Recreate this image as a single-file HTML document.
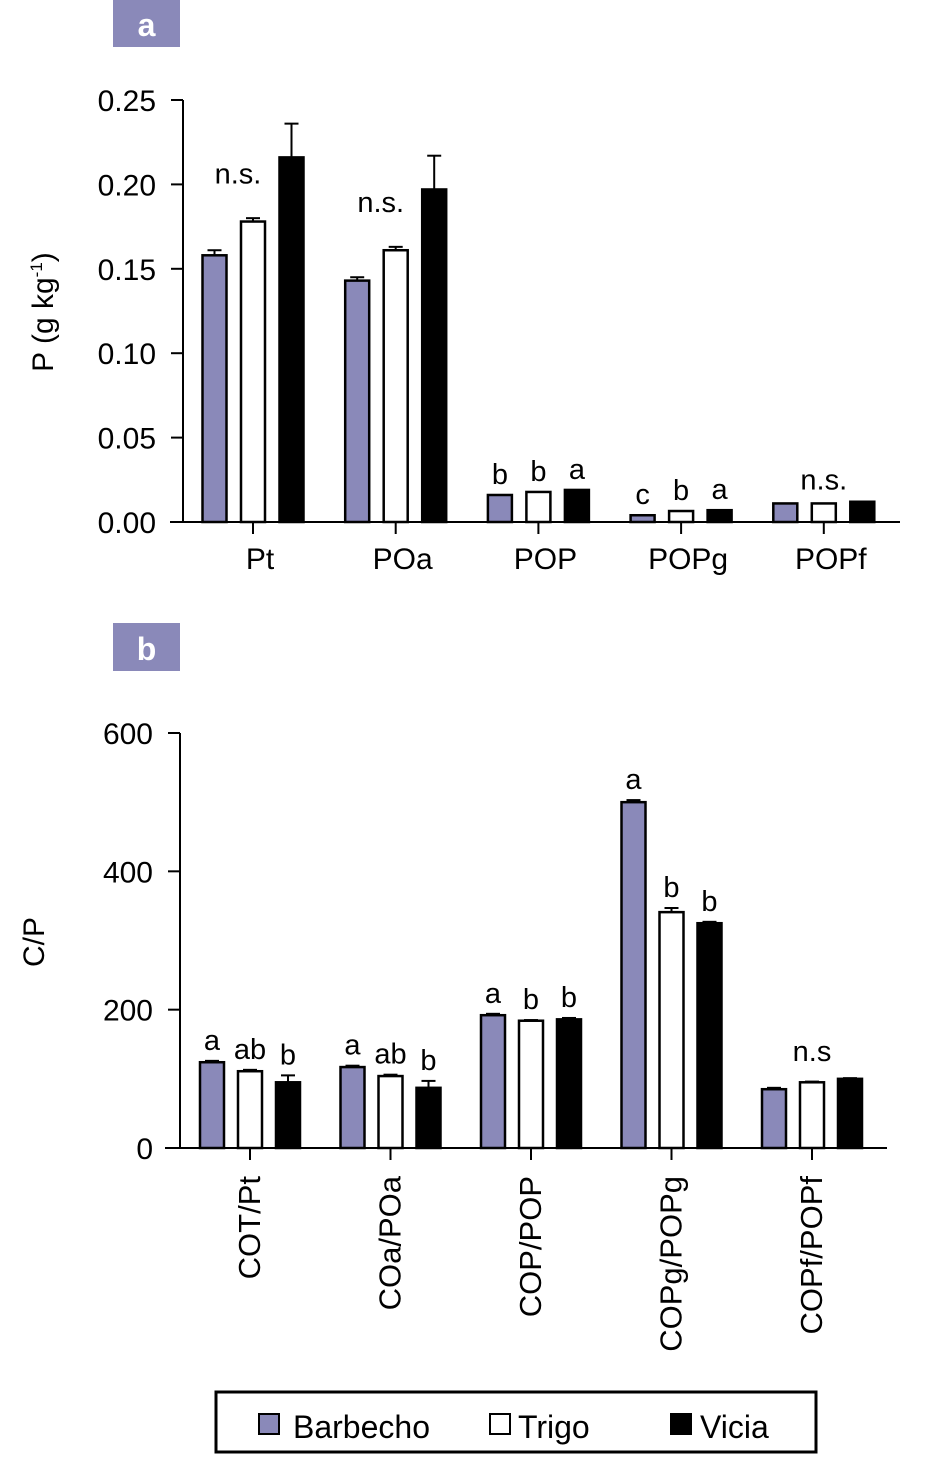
<!DOCTYPE html>
<html><head><meta charset="utf-8"><style>
body{margin:0;background:#fff}
svg{display:block;font-family:"Liberation Sans",Arial,sans-serif}
</style></head><body>
<svg id="s" width="932" height="1464" xmlns="http://www.w3.org/2000/svg">
<rect x="113" y="0" width="67" height="47" fill="#8a89b9"/>
<text x="146.5" y="36" font-size="32" font-weight="bold" fill="#fff" text-anchor="middle">a</text>
<rect x="113" y="623" width="67" height="48" fill="#8a89b9"/>
<text x="146.5" y="660" font-size="32" font-weight="bold" fill="#fff" text-anchor="middle">b</text>
<text transform="translate(53,312) rotate(-90)" font-size="30" text-anchor="middle">P (g kg<tspan font-size="17" dy="-11">-1</tspan><tspan dy="11">)</tspan></text>
<text transform="translate(44,942) rotate(-90)" font-size="30" text-anchor="middle">C/P</text>
<g id="ga"></g><g id="gb"></g>
<rect x="216" y="1392" width="600" height="60" fill="none" stroke="#000" stroke-width="3"/>
<rect x="259" y="1414" width="20" height="20" fill="#8a89b9" stroke="#000" stroke-width="2"/>
<text x="293" y="1438" font-size="32">Barbecho</text>
<rect x="490" y="1414" width="20" height="20" fill="#fff" stroke="#000" stroke-width="2"/>
<text x="518" y="1438" font-size="32">Trigo</text>
<rect x="671" y="1414" width="20" height="20" fill="#000" stroke="#000" stroke-width="2"/>
<text x="700" y="1438" font-size="32">Vicia</text>
</svg>
<script>
const catsA=["Pt","POa","POP","POPg","POPf"];
const barA=[0.158,0.143,0.016,0.004,0.011];
const trA=[0.178,0.161,0.0178,0.0065,0.011];
const viA=[0.216,0.197,0.019,0.007,0.012];
const errBarA=[0.003,0.002,0,0,0];
const errTrA=[0.002,0.002,0,0,0];
const errViA=[0.02,0.02,0,0,0];
const letA=[["","n.s.",""],["","n.s.",""],["b","b","a"],["c","b","a"],["","n.s.",""]];
const ticksA=["0.00","0.05","0.10","0.15","0.20","0.25"];
const catsB=["COT/Pt","COa/POa","COP/POP","COPg/POPg","COPf/POPf"];
const barB=[124,117,192,500,85];
const trB=[111,104,184,341,95];
const viB=[95,87,186,325,100];
const errBarB=[2,2,2,3,2];
const errTrB=[2,2,1,6,1];
const errViB=[10,10,2,2,1];
const letB=[["a","ab","b"],["a","ab","b"],["a","b","b"],["a","b","b"],["","n.s",""]];
const ticksB=["0","200","400","600"];
const NS="http://www.w3.org/2000/svg";
function mk(p,t,a){const e=document.createElementNS(NS,t);for(const k in a)e.setAttribute(k,a[k]);p.appendChild(e);return e;}
const cols=["#8a89b9","#fff","#000"];
function chart(g,o){
  const y=v=>o.y0-(v-o.vmin)/(o.vmax-o.vmin)*(o.y0-o.y1);
  const xc=i=>o.x0+i*o.dx;
  let ax=mk(g,"line",{x1:o.ax,x2:o.ax,y1:o.y1,y2:o.y0,stroke:"#000","stroke-width":2});
  
  
  let bx=mk(g,"line",{x1:o.xs,x2:o.xe,y1:o.y0,y2:o.y0,stroke:"#000","stroke-width":2});
  
  
  o.ticks.forEach((t,i)=>{
    const yy=y(parseFloat(t));
    mk(g,"line",{x1:o.ax-12,x2:o.ax,y1:yy,y2:yy,stroke:"#000","stroke-width":2});
    const tx=mk(g,"text",{x:o.ax-27,y:yy+11,"font-size":30,"text-anchor":"end"});
    tx.textContent=t;
    
    
  });
  const series=[o.s0,o.s1,o.s2],errs=[o.e0,o.e1,o.e2];
  o.cats.forEach((c,i)=>{
    const cx=xc(i);
    mk(g,"line",{x1:cx,x2:cx,y1:o.y0,y2:o.y0+12,stroke:"#000","stroke-width":2});
    const lb=o.rot?mk(g,"text",{transform:`translate(${cx+10},${o.y0+28}) rotate(-90)`,"font-size":31,"text-anchor":"end"})
                 :mk(g,"text",{x:cx+7,y:o.y0+47,"font-size":30,"text-anchor":"middle"});
    lb.textContent=c;
    
    
    for(let k=0;k<3;k++){
      const v=series[k][i],bxc=cx+(k-1)*o.off,top=y(v);
      if(errs[k][i]>0){
        const et=y(v+errs[k][i]);
        mk(g,"line",{x1:bxc,x2:bxc,y1:et,y2:top,stroke:"#000","stroke-width":2});
        mk(g,"line",{x1:bxc-7,x2:bxc+7,y1:et,y2:et,stroke:"#000","stroke-width":2});
      }
      const r=mk(g,"rect",{x:bxc-12,y:top,width:24,height:o.y0-top,fill:cols[k],stroke:"#000","stroke-width":2.5});
      
      
      const L=o.lets[i][k];
      if(L){
        let xx=bxc,yy=y(v+errs[k][i])-11;
        if(L.startsWith("n.")){
          const bigErr=errs[2][i]>(o.vmax*0.02);
          if(bigErr){xx=cx-15;yy=y(Math.max(series[0][i],series[1][i]))-38;}
          else{yy=y(Math.max(series[0][i],series[1][i],series[2][i]))-o.nsgap;}
        }
        const t=mk(g,"text",{x:xx,y:yy,"font-size":29,"text-anchor":"middle"});
        t.textContent=L;
        
        }
    }
  });
}
chart(document.getElementById("ga"),{y0:522,y1:100,vmin:0,vmax:0.25,ax:183,xs:170,xe:900,x0:253,dx:142.7,off:38.5,
 ticks:ticksA,cats:catsA,s0:barA,s1:trA,s2:viA,e0:errBarA,e1:errTrA,e2:errViA,lets:letA,rot:false,nsgap:12});
chart(document.getElementById("gb"),{y0:1148,y1:733,vmin:0,vmax:600,ax:180,xs:165,xe:887,x0:250,dx:140.5,off:38,
 ticks:ticksB,cats:catsB,s0:barB,s1:trB,s2:viB,e0:errBarB,e1:errTrB,e2:errViB,lets:letB,rot:true,nsgap:18});
</script>
</body></html>
